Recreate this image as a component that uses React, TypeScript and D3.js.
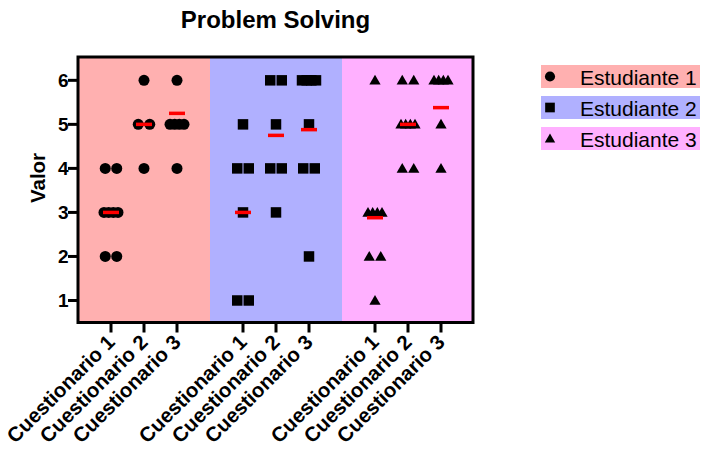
import React from "react";
import * as d3 from "d3";

const categories = ["Cuestionario 1", "Cuestionario 2", "Cuestionario 3"];
const students = ["Estudiante 1", "Estudiante 2", "Estudiante 3"];
const e1Values = [[4, 4, 3, 3, 3, 3, 2, 2], [6, 5, 5, 4], [6, 5, 5, 5, 5, 4]];
const e2Values = [[5, 4, 4, 3, 1, 1], [6, 6, 5, 4, 4, 3], [6, 6, 6, 6, 5, 4, 4, 2]];
const e3Values = [[6, 3, 3, 3, 3, 2, 2, 1], [6, 6, 5, 5, 5, 5, 4, 4], [6, 6, 6, 6, 5, 4]];
const e1Means = [3.0, 5.0, 5.25];
const e2Means = [3.0, 4.75, 4.88];
const e3Means = [2.88, 5.0, 5.38];
const yTicks = [1, 2, 3, 4, 5, 6];

const seriesValues = [e1Values, e2Values, e3Values];
const seriesMeans = [e1Means, e2Means, e3Means];
const bgColors = ["#ffb0b0", "#b0b0ff", "#ffb0ff"];
const symbolTypes = [d3.symbolCircle, d3.symbolSquare, d3.symbolTriangle];
const symbolSizes = [95, 110, 55];

const W = 704;
const H = 451;
const plotLeft = 78;
const plotRight = 473;
const plotTop = 57;
const plotBottom = 322.5;

export default function App() {
  // slot index: student*4 + category; slots -1 and 11 are the frame edges
  const x = d3.scaleLinear().domain([-1, 11]).range([plotLeft, plotRight + 1]);
  const y = d3.scaleLinear().domain([0.5, 6.53]).range([plotBottom, plotTop]);

  const font = "'Liberation Sans', Arial, Helvetica, sans-serif";

  const points: { cx: number; cy: number; s: number }[] = [];
  seriesValues.forEach((series, s) => {
    series.forEach((vals, c) => {
      const cxCenter = x(s * 4 + c);
      const groups = d3.group(vals, (v) => v);
      groups.forEach((arr, v) => {
        const n = arr.length;
        const spacing = n <= 2 ? 11.5 : 14 / (n - 1);
        arr.forEach((_, i) => {
          points.push({ cx: cxCenter + (i - (n - 1) / 2) * spacing, cy: y(v), s });
        });
      });
    });
  });

  return (
    <svg width={W} height={H} style={{ display: "block", position: "absolute", left: 0, top: 0 }}>
      <rect width={W} height={H} fill="#fff" />
      {/* backgrounds */}
      {students.map((st, s) => (
        <rect
          key={st}
          x={x(s * 4 - 1)}
          y={plotTop}
          width={x(s * 4 + 3) - x(s * 4 - 1)}
          height={plotBottom - plotTop}
          fill={bgColors[s]}
        />
      ))}
      {/* points */}
      {points.map((p, i) => (
        <path
          key={i}
          d={d3.symbol().type(symbolTypes[p.s]).size(symbolSizes[p.s])() as string}
          transform={`translate(${p.cx},${p.cy + (p.s === 2 ? 1 : 0)})`}
          fill="#000"
        />
      ))}
      {/* means */}
      {seriesMeans.map((ms, s) =>
        ms.map((m, c) => (
          <line
            key={`m${s}${c}`}
            x1={x(s * 4 + c) - 8}
            x2={x(s * 4 + c) + 8}
            y1={y(m)}
            y2={y(m)}
            stroke="#ff0000"
            strokeWidth={3.5}
          />
        ))
      )}
      {/* frame */}
      <rect
        x={plotLeft}
        y={plotTop}
        width={plotRight - plotLeft}
        height={plotBottom - plotTop}
        fill="none"
        stroke="#000"
        strokeWidth={3}
      />
      {/* y ticks */}
      {yTicks.map((t) => (
        <g key={t}>
          <line x1={plotLeft - 10} x2={plotLeft} y1={y(t)} y2={y(t)} stroke="#000" strokeWidth={3} />
          <text
            x={plotLeft - 9.5}
            y={y(t)}
            textAnchor="end"
            dominantBaseline="central"
            fontFamily={font}
            fontWeight="bold"
            fontSize={19}
          >
            {t}
          </text>
        </g>
      ))}
      {/* x ticks */}
      {students.map((st, s) =>
        categories.map((cat, c) => {
          const tx = x(s * 4 + c);
          return (
            <g key={`${st}${cat}`}>
              <line x1={tx} x2={tx} y1={plotBottom} y2={plotBottom + 10} stroke="#000" strokeWidth={3} />
              <text
                transform={`translate(${tx + 5},${plotBottom + 21}) rotate(-45)`}
                textAnchor="end"
                fontFamily={font}
                fontWeight="bold"
                fontSize={20.5}
              >
                {cat}
              </text>
            </g>
          );
        })
      )}
      {/* y axis title */}
      <text
        transform={`translate(45,178) rotate(-90)`}
        textAnchor="middle"
        fontFamily={font}
        fontWeight="bold"
        fontSize={20.5}
      >
        Valor
      </text>
      {/* title */}
      <text
        x={(plotLeft + plotRight) / 2}
        y={28}
        textAnchor="middle"
        fontFamily={font}
        fontWeight="bold"
        fontSize={24}
      >
        Problem Solving
      </text>
      {/* legend */}
      {students.map((st, s) => {
        const top = 65 + s * 31;
        return (
          <g key={`lg${s}`}>
            <rect x={541} y={top} width={159} height={23} fill={bgColors[s]} />
            <path
              d={d3.symbol().type(symbolTypes[s]).size(symbolSizes[s] * 0.85)() as string}
              transform={`translate(550,${top + 11.5 + (s === 2 ? 1 : 0)})`}
              fill="#000"
            />
            <text x={580} y={top + 19.5} fontFamily={font} fontSize={21}>
              {st}
            </text>
          </g>
        );
      })}
    </svg>
  );
}
